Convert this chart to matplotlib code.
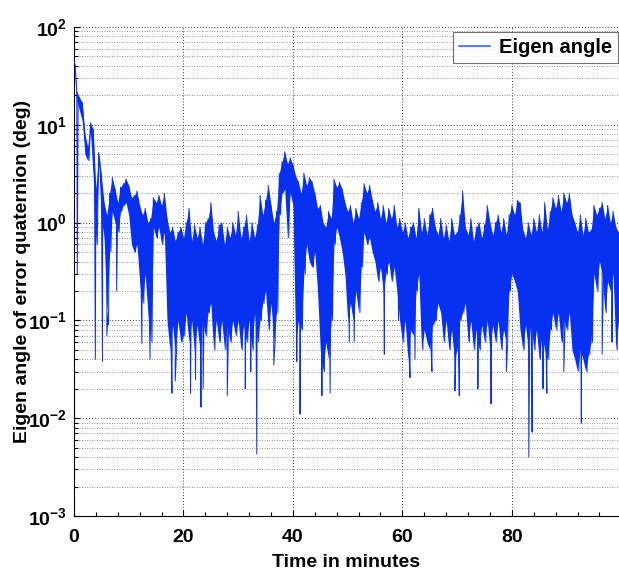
import numpy as np
import matplotlib
matplotlib.use("Agg")
import matplotlib.pyplot as plt
from matplotlib.ticker import LogLocator, MultipleLocator, NullFormatter

plt.rcParams['font.family'] = ['Liberation Sans', 'DejaVu Sans']
plt.rcParams['font.weight'] = 'bold'
plt.rcParams['mathtext.fontset'] = 'custom'
plt.rcParams['mathtext.rm'] = 'Liberation Sans:bold'
plt.rcParams['mathtext.it'] = 'Liberation Sans:bold'
plt.rcParams['mathtext.bf'] = 'Liberation Sans:bold'

# upper / lower envelope of the eigen angle, one pair per half minute (deg)
t_start = 0.0
t_step = 0.5
upper = [
    45, 22, 19, 17, 8, 6, 10.5, 9, 2.2, 5.2,
    3.0, 1.6, 1.2, 2.0, 2.9, 2.2, 1.6, 2.3, 2.5, 2.8,
    2.4, 1.8, 1.9, 2.1, 1.5, 1.2, 1.4, 1.0, 1.1, 1.8,
    1.6, 1.9, 1.5, 2.0, 1.1, 0.8, 0.9, 0.65, 0.8, 0.9,
    0.7, 1.0, 1.4, 0.65, 0.95, 0.7, 0.9, 0.6, 1.0, 1.1,
    1.6, 0.8, 0.65, 0.95, 1.0, 0.6, 0.9, 0.7, 1.0, 0.75,
    1.3, 0.7, 0.9, 1.2, 0.65, 1.0, 0.7, 0.95, 1.9, 1.2,
    1.7, 2.4, 1.5, 1.0, 1.3, 3.2, 4.2, 5.3, 4.0, 4.6,
    3.9, 3.0, 2.6, 2.0, 3.2, 2.4, 2.9, 2.6, 2.0, 1.4,
    1.5, 1.0, 0.9, 1.3, 1.1, 2.8, 2.3, 2.6, 2.2, 1.6,
    1.3, 1.5, 1.0, 1.4, 1.1, 1.6, 2.5, 2.0, 2.4, 1.7,
    1.3, 1.6, 1.1, 1.5, 1.0, 1.4, 1.1, 1.5, 0.9, 1.1,
    0.8, 1.0, 0.7, 0.9, 1.0, 0.7, 1.4, 0.8, 1.1, 0.75,
    1.2, 1.4, 0.9, 0.75, 1.1, 0.7, 0.95, 0.65, 1.1, 0.75,
    0.8, 1.2, 2.1, 0.9, 0.75, 1.1, 0.65, 0.9, 1.0, 0.7,
    0.95, 1.5, 1.0, 0.75, 1.0, 1.2, 0.8, 1.1, 0.75, 1.2,
    1.5, 1.2, 1.7, 1.6, 0.85, 0.7, 1.0, 0.75, 1.1, 0.8,
    1.2, 0.8, 1.6, 0.85, 1.3, 1.8, 1.4, 1.9, 1.3, 2.0,
    1.6, 2.0, 1.2, 1.0, 0.8, 1.2, 0.75, 1.1, 0.8, 0.85,
    1.5, 1.2, 1.4, 1.6, 1.1, 1.5, 1.0, 1.3, 0.9, 0.8,
]
lower = [
    40, 18, 14, 11, 5, 4.3, 8.5, 3, 0.6, 4,
    1.1, 0.7, 0.12, 0.5, 1.3, 1.0, 0.8, 1.3, 1.5, 1.6,
    1.2, 0.6, 0.5, 0.6, 0.25, 0.15, 0.3, 0.12, 0.06, 0.9,
    0.7, 0.9, 0.6, 0.8, 0.1, 0.05, 0.09, 0.05, 0.1, 0.06,
    0.07, 0.12, 0.06, 0.1, 0.05, 0.09, 0.05, 0.1, 0.07, 0.12,
    0.15, 0.05, 0.1, 0.06, 0.1, 0.05, 0.09, 0.06, 0.1, 0.07,
    0.1, 0.05, 0.09, 0.06, 0.1, 0.05, 0.12, 0.06, 0.1, 0.15,
    0.2, 0.08, 0.15, 0.06, 0.12, 1.2, 2.0, 2.2, 0.7, 2.0,
    1.5, 0.06, 0.1, 0.08, 0.3, 0.6, 0.4, 0.35, 0.5, 0.2,
    0.05, 0.03, 0.06, 0.04, 0.1, 0.6, 0.9, 0.7, 0.5, 0.3,
    0.1, 0.15, 0.1, 0.2, 0.12, 0.35, 0.8, 0.6, 0.7, 0.5,
    0.4, 0.25, 0.35, 0.2, 0.3, 0.4, 0.25, 0.35, 0.2, 0.1,
    0.06, 0.1, 0.04, 0.08, 0.07, 0.2, 0.3, 0.05, 0.08, 0.06,
    0.05, 0.09, 0.1, 0.15, 0.12, 0.06, 0.1, 0.05, 0.08, 0.04,
    0.05, 0.1, 0.12, 0.15, 0.06, 0.1, 0.05, 0.08, 0.05, 0.09,
    0.06, 0.1, 0.05, 0.09, 0.06, 0.1, 0.05, 0.08, 0.06, 0.2,
    0.3, 0.25, 0.2, 0.08, 0.05, 0.09, 0.05, 0.1, 0.05, 0.08,
    0.04, 0.07, 0.05, 0.04, 0.08, 0.12, 0.08, 0.12, 0.06, 0.1,
    0.08, 0.12, 0.05, 0.04, 0.03, 0.05, 0.04, 0.03, 0.045, 0.06,
    0.3, 0.2, 0.4, 0.3, 0.12, 0.25, 0.2, 0.3, 0.05, 0.1,
]
# isolated deep dips (minute, deg)
spike_t = [0.6, 3.9, 5.2, 6.0, 6.3, 7.8, 12.4, 13.9, 17.9, 18.5,
           21.3, 22.2, 23.2, 23.6, 28.0, 31.3, 32.3, 33.4, 36.5, 40.7,
           41.3, 45.3, 46.8, 50.3, 51.2, 56.7, 59.3, 61.4, 62.3, 65.4,
           69.6, 70.4, 73.8, 76.2, 79.0, 83.1, 83.7, 85.7, 86.4, 89.5,
           92.7, 96.5, 98.3]
spike_v = [0.3, 0.04, 0.038, 0.07, 0.09, 0.2, 0.058, 0.04, 0.018, 0.024,
           0.018, 0.025, 0.013, 0.02, 0.017, 0.02, 0.03, 0.0043, 0.035, 0.038,
           0.011, 0.017, 0.018, 0.06, 0.06, 0.045, 0.1, 0.026, 0.04, 0.03,
           0.019, 0.017, 0.02, 0.014, 0.03, 0.004, 0.0072, 0.02, 0.018, 0.03,
           0.0089, 0.045, 0.06]

n = len(upper)
t_hi = t_start + t_step * np.arange(n)
t_lo = t_hi + t_step / 2
t_all = np.concatenate([t_hi, t_lo, spike_t])
v_all = np.concatenate([upper, lower, spike_v])
order = np.argsort(t_all, kind='stable')
t_all = t_all[order]
v_all = v_all[order]

blue = '#0830f0'

fig = plt.figure(figsize=(6.19, 5.75), dpi=100)
ax = fig.add_axes([74 / 619, 59 / 575, 544 / 619, 489 / 575])

# dense band of the signal, then the trace itself on top
ax.fill_between(t_hi, lower, upper, color=blue, lw=0, zorder=2)
ax.semilogy(t_all, v_all, color=blue, lw=0.7, label='Eigen angle', zorder=3)

ax.set_xlim(0, 99.4)
ax.set_ylim(1e-3, 1e2)
ax.xaxis.set_major_locator(MultipleLocator(20))
ax.xaxis.set_minor_locator(MultipleLocator(4))
ax.yaxis.set_major_locator(LogLocator(base=10, numticks=10))
ax.yaxis.set_minor_locator(LogLocator(base=10, subs=np.arange(2, 10), numticks=20))
ax.yaxis.set_minor_formatter(NullFormatter())

ax.grid(True, which='major', axis='both', linestyle=(0, (1, 2)), color='0.25', lw=0.7)
ax.grid(True, which='minor', axis='y', linestyle=(0, (1, 2)), color='0.45', lw=0.6)

ax.spines['top'].set_visible(False)
ax.spines['right'].set_visible(False)
ax.tick_params(which='both', direction='in', labelsize=14, width=0.8)
ax.tick_params(which='major', length=4.5)
ax.tick_params(axis='x', which='major', pad=9)
ax.tick_params(axis='y', which='major', pad=5)
ax.tick_params(which='minor', length=3)
for lab in ax.get_xticklabels() + ax.get_yticklabels():
    lab.set_fontweight('bold')

ax.set_xlabel('Time in minutes', fontsize=14, fontweight='bold', labelpad=6)
ax.set_ylabel('Eigen angle of error quaternion (deg)', fontsize=14, fontweight='bold', labelpad=-2)

leg = ax.legend(loc='upper right', bbox_to_anchor=(1.0, 0.99), fontsize=14.5, frameon=True,
                fancybox=False, borderaxespad=0, handlelength=1.55, borderpad=0.3,
                handletextpad=0.45)
leg.get_frame().set_edgecolor('0.3')
leg.get_frame().set_linewidth(0.8)
leg.get_lines()[0].set_color('#3a66f2')
leg.get_lines()[0].set_linewidth(1.2)

fig.savefig('out.png', dpi=100)
